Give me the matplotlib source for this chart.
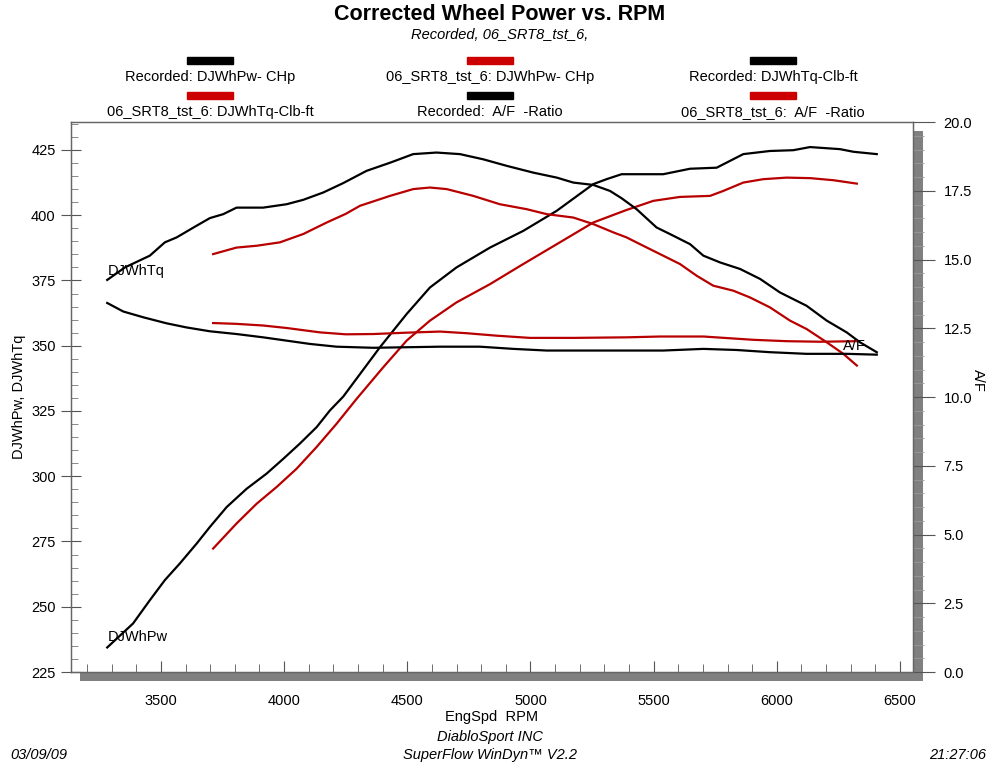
import matplotlib
matplotlib.use("Agg")
import matplotlib.pyplot as plt
from matplotlib.ticker import MultipleLocator, FormatStrFormatter

plt.rcParams['font.family'] = ['Liberation Sans', 'DejaVu Sans']

# Recorded (black) and 06_SRT8_tst_6 (red) runs
rec_tq_rpm = [3282, 3354, 3455, 3516, 3564, 3638, 3699, 3753, 3807, 3915, 4010, 4078, 4159, 4240,
              4335, 4430, 4524, 4619, 4714, 4809, 4904, 5012, 5107, 5174, 5255, 5323, 5370, 5431,
              5512, 5566, 5648, 5702, 5770, 5851, 5932, 6013, 6121, 6203, 6284, 6338, 6406]
rec_tq = [375.2, 380.0, 384.5, 389.6, 391.5, 395.6, 398.9, 400.4, 402.9, 402.9, 404.2, 405.9, 408.7,
          412.3, 417.0, 420.1, 423.4, 424.0, 423.4, 421.4, 418.9, 416.3, 414.4, 412.5, 411.6, 409.3,
          406.5, 402.3, 395.3, 392.8, 388.9, 384.5, 381.9, 379.4, 375.6, 370.4, 365.3, 359.6, 355.1,
          351.3, 347.5]

tst_tq_rpm = [3712, 3807, 3889, 3983, 4078, 4173, 4250, 4308, 4430, 4524, 4592, 4660, 4768, 4876,
              4985, 5066, 5174, 5255, 5337, 5390, 5445, 5526, 5607, 5675, 5742, 5823, 5891, 5972,
              6054, 6121, 6203, 6270, 6325]
tst_tq = [385.1, 387.6, 388.3, 389.6, 392.8, 397.2, 400.5, 403.6, 407.4, 410.0, 410.6, 410.0, 407.4,
          404.2, 402.3, 400.4, 399.1, 396.6, 393.4, 391.5, 388.9, 385.1, 381.3, 376.8, 373.0, 371.1,
          368.5, 364.7, 359.6, 356.4, 351.3, 346.9, 342.4]

rec_pw_rpm = [3282, 3387, 3455, 3516, 3577, 3645, 3699, 3767, 3848, 3929, 3997, 4064, 4132, 4186,
              4240, 4389, 4498, 4592, 4700, 4836, 4971, 5107, 5255, 5309, 5370, 5539, 5648, 5756,
              5864, 5972, 6067, 6135, 6257, 6311, 6406]
rec_pw = [234.4, 243.6, 252.5, 260.2, 266.6, 274.2, 280.6, 288.2, 295.2, 301.0, 306.7, 312.5, 318.8,
          325.2, 330.5, 349.4, 362.2, 372.3, 380.0, 387.6, 394.0, 401.7, 411.9, 413.8, 415.7, 415.7,
          417.8, 418.2, 423.4, 424.6, 424.9, 426.1, 425.3, 424.3, 423.4]

tst_pw_rpm = [3712, 3807, 3889, 3970, 4051, 4132, 4213, 4294, 4403, 4498, 4592, 4700, 4836, 4971,
              5107, 5255, 5390, 5499, 5607, 5729, 5783, 5864, 5945, 6040, 6135, 6230, 6325]
tst_pw = [272.3, 281.9, 289.5, 295.9, 302.9, 311.2, 320.1, 329.6, 341.8, 352.0, 359.6, 366.6, 373.6,
          381.3, 388.9, 397.2, 402.0, 405.5, 407.0, 407.4, 409.3, 412.5, 413.8, 414.4, 414.2, 413.4,
          412.1]

rec_af_rpm = [3282, 3347, 3428, 3523, 3604, 3699, 3807, 3915, 4010, 4105, 4213, 4362, 4498, 4633,
              4795, 4931, 5066, 5201, 5370, 5539, 5702, 5837, 5972, 6121, 6284, 6406]
rec_af = [13.42, 13.11, 12.90, 12.68, 12.53, 12.39, 12.29, 12.17, 12.05, 11.93, 11.83, 11.79, 11.81,
          11.83, 11.83, 11.75, 11.69, 11.69, 11.69, 11.69, 11.75, 11.71, 11.63, 11.57, 11.57, 11.54]

tst_af_rpm = [3712, 3807, 3915, 4010, 4146, 4250, 4362, 4498, 4633, 4741, 4863, 4998, 5174, 5390,
              5526, 5702, 5905, 6040, 6176, 6325]
tst_af = [12.69, 12.66, 12.60, 12.51, 12.35, 12.28, 12.29, 12.34, 12.38, 12.32, 12.23, 12.15, 12.15,
          12.17, 12.20, 12.20, 12.08, 12.03, 12.01, 12.03]

legend_labels = [["Recorded: DJWhPw- CHp", "06_SRT8_tst_6: DJWhPw- CHp", "Recorded: DJWhTq-Clb-ft"],
                 ["06_SRT8_tst_6: DJWhTq-Clb-ft", "Recorded:  A/F  -Ratio", "06_SRT8_tst_6:  A/F  -Ratio"]]
legend_colors = [["black", "#cc0000", "black"], ["#cc0000", "black", "#cc0000"]]

BLACK = "#000000"
RED = "#b80000"

fig = plt.figure(figsize=(10, 7.64), dpi=100)

# gray drop shadow behind the plot frame
shadow = fig.add_axes([0.080, 0.1086, 0.843, 0.7199])
shadow.set_facecolor("#808080")
shadow.set_xticks([]); shadow.set_yticks([])
for s in shadow.spines.values():
    s.set_visible(False)

ax = fig.add_axes([0.071, 0.1204, 0.842, 0.7199])
ax.set_facecolor("white")
ax.plot(rec_pw_rpm, rec_pw, color=BLACK, lw=1.6)
ax.plot(tst_pw_rpm, tst_pw, color=RED, lw=1.6)
ax.plot(rec_tq_rpm, rec_tq, color=BLACK, lw=1.6)
ax.plot(tst_tq_rpm, tst_tq, color=RED, lw=1.6)
ax.set_xlim(3135, 6553)
ax.set_ylim(225, 435.7)
ax.xaxis.set_major_locator(MultipleLocator(500))
ax.xaxis.set_minor_locator(MultipleLocator(100))
ax.yaxis.set_major_locator(MultipleLocator(25))
ax.yaxis.set_minor_locator(MultipleLocator(5))
ax.tick_params(axis='x', which='major', direction='in', length=8, color='#555555', labelsize=10.5, pad=16)
ax.tick_params(axis='x', which='minor', direction='in', length=6, color='#555555')
ax.tick_params(axis='y', which='major', direction='inout', length=14, color='#555555', labelsize=10.5, pad=4)
ax.tick_params(axis='y', which='minor', direction='in', length=5, color='#777777')
ax.tick_params(top=False, right=False)
for s in ax.spines.values():
    s.set_color('#666666')
    s.set_linewidth(1.0)
ax.set_xlabel("EngSpd  RPM", fontsize=10.5, labelpad=1)
ax.set_ylabel("DJWhPw, DJWhTq", fontsize=10.5, labelpad=4)

ax.text(3285, 378.7, "DJWhTq", fontsize=10.5, va='center', ha='left')
ax.text(3285, 238.5, "DJWhPw", fontsize=10.5, va='center', ha='left')

ax2 = ax.twinx()
ax2.plot(rec_af_rpm, rec_af, color=BLACK, lw=1.6)
ax2.plot(tst_af_rpm, tst_af, color=RED, lw=1.6)
ax2.set_ylim(0, 20)
ax2.yaxis.set_major_locator(MultipleLocator(2.5))
ax2.yaxis.set_minor_locator(MultipleLocator(0.5))
ax2.yaxis.set_major_formatter(FormatStrFormatter('%.1f'))
ax2.tick_params(axis='y', which='major', direction='out', length=16, color='#555555', labelsize=10.5, pad=6)
ax2.tick_params(axis='y', which='minor', direction='out', length=8, color='#999999')
for s in ax2.spines.values():
    s.set_color('#666666')
ax2.set_ylabel("A/F", fontsize=10.5, rotation=-90, labelpad=14)
ax2.yaxis.set_label_coords(1.085, 0.53)
ax2.text(6270, 11.85, "A/F", fontsize=10.5, va='center', ha='left')

# header
fig.text(0.5, 0.981, "Corrected Wheel Power vs. RPM", ha='center', va='center',
         fontsize=15.5, fontweight='bold', family=['Liberation Sans Narrow', 'Liberation Sans'])
fig.text(0.5, 0.954, "Recorded, 06_SRT8_tst_6,", ha='center', va='center', fontsize=10.5, style='italic')

col_x = [0.210, 0.490, 0.773]
bar_y = [0.921, 0.875]
lab_y = [0.899, 0.853]
for r in range(2):
    for c in range(3):
        fig.patches.append(plt.Rectangle((col_x[c] - 0.023, bar_y[r] - 0.005), 0.046, 0.010,
                                         transform=fig.transFigure, color=legend_colors[r][c]))
        fig.text(col_x[c], lab_y[r], legend_labels[r][c], ha='center', va='center', fontsize=10.5)

# footer
fig.text(0.49, 0.035, "DiabloSport INC", ha='center', va='center', fontsize=10.5, style='italic')
fig.text(0.49, 0.012, "SuperFlow WinDyn\u2122 V2.2", ha='center', va='center', fontsize=10.5, style='italic')
fig.text(0.010, 0.012, "03/09/09", ha='left', va='center', fontsize=10.5, style='italic')
fig.text(0.986, 0.012, "21:27:06", ha='right', va='center', fontsize=10.5, style='italic')

fig.savefig("out.png", dpi=100)
